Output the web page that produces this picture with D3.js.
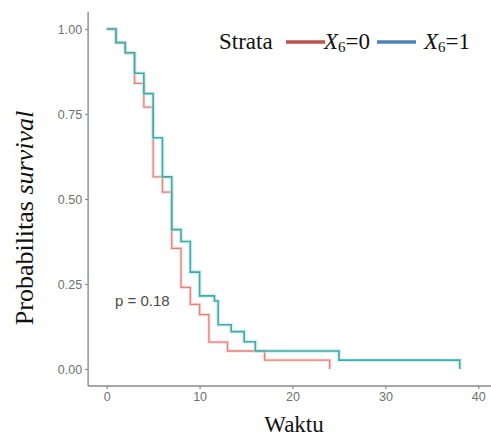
<!DOCTYPE html>
<html>
<head>
<meta charset="utf-8">
<script src="https://cdn.jsdelivr.net/npm/d3@7"></script>
<style>
  body { margin: 0; background: #fff; }
  svg { display: block; }
</style>
</head>
<body>
<div id="chart"></div>
<script>
// Kaplan-Meier steps
var timesX0 = [0, 1, 2, 3, 4, 5, 6, 7, 8, 9, 10, 11, 13, 17, 24];
var survX0 = [1.0, 0.96, 0.93, 0.84, 0.77, 0.565, 0.52, 0.355, 0.24, 0.19, 0.16, 0.079, 0.053, 0.026, 0.0];

var timesX1 = [0, 1, 2, 3, 4, 5, 6, 7, 8, 9, 10, 11.6, 12, 13.4, 14.8, 16, 25, 38];
var survX1 = [1.0, 0.96, 0.93, 0.87, 0.81, 0.68, 0.565, 0.41, 0.375, 0.285, 0.215, 0.2, 0.13, 0.11, 0.08, 0.053, 0.026, 0.0];

var xTicks = [0, 10, 20, 30, 40];
var yTicks = [0, 0.25, 0.5, 0.75, 1];
var strata = ["0", "1"];
var pValue = "p = 0.18";

var svgWidth = 491;
var svgHeight = 436;

var svg = d3.select("#chart")
  .append("svg")
  .attr("width", svgWidth)
  .attr("height", svgHeight);

var x = d3.scaleLinear().domain([0, 40]).range([106.7, 478.3]);
var y = d3.scaleLinear().domain([0, 1]).range([369, 29]);

// Axes
var axisColor = "#8a8a8a";
var bottomY = y(-0.05);
var leftX = x(-2);

var xAxis = svg.append("g")
  .attr("transform", `translate(0, ${bottomY})`)
  .call(d3.axisBottom(x).tickValues(xTicks).tickSize(3).tickPadding(3));
xAxis.select(".domain").remove();
xAxis.append("line")
  .attr("x1", leftX).attr("x2", x(42))
  .attr("stroke", axisColor).attr("stroke-width", 1.4);

var yAxis = svg.append("g")
  .attr("transform", `translate(${leftX}, 0)`)
  .call(d3.axisLeft(y).tickValues(yTicks).tickFormat(d3.format(".2f")).tickSize(3).tickPadding(3));
yAxis.select(".domain").remove();
yAxis.append("line")
  .attr("y1", y(1.05)).attr("y2", bottomY)
  .attr("stroke", axisColor).attr("stroke-width", 1.4);

svg.selectAll(".tick line").attr("stroke", axisColor).attr("stroke-width", 1.2);
svg.selectAll(".tick text")
  .attr("fill", "#707070")
  .attr("font-family", "Liberation Sans, Arial, sans-serif")
  .attr("font-size", 12.5);

// Survival curves
var line = d3.line()
  .x(d => x(d[0]))
  .y(d => y(d[1]))
  .curve(d3.curveStepAfter);

var ptsX0 = timesX0.map((t, i) => [t, survX0[i]]);
var ptsX1 = timesX1.map((t, i) => [t, survX1[i]]);

svg.append("path").datum(ptsX0)
  .attr("d", line).attr("fill", "none")
  .attr("stroke", "#fac4c0").attr("stroke-width", 3.2).attr("opacity", 0.6);
svg.append("path").datum(ptsX0)
  .attr("d", line).attr("fill", "none")
  .attr("stroke", "#e0857e").attr("stroke-width", 1.3);

svg.append("path").datum(ptsX1)
  .attr("d", line).attr("fill", "none")
  .attr("stroke", "#a8ecee").attr("stroke-width", 4).attr("opacity", 0.55);
svg.append("path").datum(ptsX1)
  .attr("d", line).attr("fill", "none")
  .attr("stroke", "#4aa5a5").attr("stroke-width", 1.6);

// p-value
svg.append("text")
  .attr("x", x(0.9))
  .attr("y", y(0.2))
  .attr("dy", "0.35em")
  .attr("font-family", "Liberation Sans, Arial, sans-serif")
  .attr("font-size", 15)
  .attr("fill", "#4a4a4a")
  .text(pValue);

// Axis titles
svg.append("text")
  .attr("x", 294)
  .attr("y", 432)
  .attr("text-anchor", "middle")
  .attr("font-family", "Liberation Serif, Times New Roman, serif")
  .attr("font-size", 23)
  .attr("fill", "#111")
  .text("Waktu");

var yTitle = svg.append("text")
  .attr("transform", "translate(33, 218) rotate(-90)")
  .attr("text-anchor", "middle")
  .attr("font-family", "Liberation Serif, Times New Roman, serif")
  .attr("font-size", 26)
  .attr("fill", "#111");
yTitle.append("tspan").text("Probabilitas ");
yTitle.append("tspan").attr("font-style", "italic").text("survival");

// Legend
var legend = svg.append("g")
  .attr("font-family", "Liberation Serif, Times New Roman, serif")
  .attr("font-size", 23)
  .attr("fill", "#111");

legend.append("text").attr("x", 219).attr("y", 49).text("Strata");

var legendColors = ["#c0504d", "#4f81bd"];
var legendLineX = [286, 377];
var legendTextX = [324, 424];

strata.forEach(function(s, i) {
  legend.append("line")
    .attr("x1", legendLineX[i]).attr("x2", legendLineX[i] + 39)
    .attr("y1", 42).attr("y2", 42)
    .attr("stroke", legendColors[i]).attr("stroke-width", 3.5);
  var t = legend.append("text").attr("x", legendTextX[i]).attr("y", 49);
  t.append("tspan").attr("font-style", "italic").text("X");
  t.append("tspan").attr("font-size", 15).attr("dy", 3).text("6");
  t.append("tspan").attr("dy", -3).text("=" + s);
});
</script>
</body>
</html>
